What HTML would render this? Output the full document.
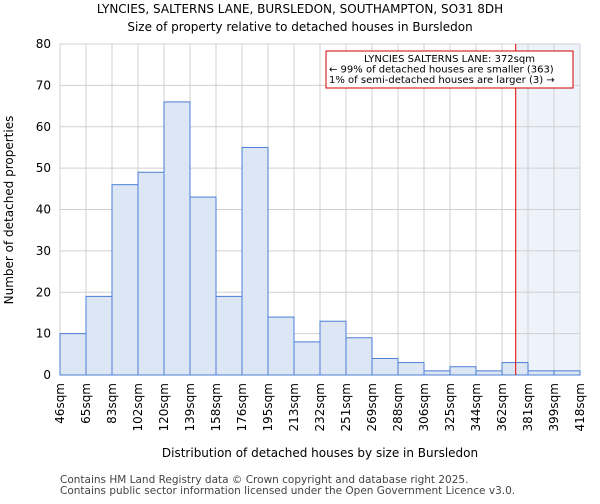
<!DOCTYPE html>
<html><head><meta charset="utf-8"><style>
body{margin:0;background:#fff;font-family:"DejaVu Sans","Liberation Sans",sans-serif}
</style></head><body>
<svg id="chart" width="600" height="500" xmlns="http://www.w3.org/2000/svg" font-family="DejaVu Sans, Liberation Sans, sans-serif">
<text x="300" y="13" text-anchor="middle" font-size="12">LYNCIES, SALTERNS LANE, BURSLEDON, SOUTHAMPTON, SO31 8DH</text>
<text x="300" y="31" text-anchor="middle" font-size="12">Size of property relative to detached houses in Bursledon</text>
<g id="grid"></g>
<g id="bars"></g>
<g id="axes"></g>
<text transform="translate(13,210) rotate(-90)" text-anchor="middle" font-size="12">Number of detached properties</text>
<text x="320" y="457" text-anchor="middle" font-size="12">Distribution of detached houses by size in Bursledon</text>
<text x="60" y="483" font-size="10.5" fill="#444">Contains HM Land Registry data © Crown copyright and database right 2025.</text>
<text x="60" y="494" font-size="10.5" fill="#444">Contains public sector information licensed under the Open Government Licence v3.0.</text>
</svg>
<script>
const categories=["46sqm","65sqm","83sqm","102sqm","120sqm","139sqm","158sqm","176sqm","195sqm","213sqm","232sqm","251sqm","269sqm","288sqm","306sqm","325sqm","344sqm","362sqm","381sqm","399sqm","418sqm"];
const counts=[10,19,46,49,66,43,19,55,14,8,13,9,4,3,1,2,1,3,1,1];
const yTicks=[0,10,20,30,40,50,60,70,80];
const binStart=46, binWidth=18.6;
const propertySize=372;
const annotationLines=["LYNCIES SALTERNS LANE: 372sqm","← 99% of detached houses are smaller (363)","1% of semi-detached houses are larger (3) →"];

const NS="http://www.w3.org/2000/svg";
const x0=60,x1=580,yB=375,yT=44,yMax=80;
const n=counts.length;
const bw=(x1-x0)/n;
const X=i=>x0+i*bw;
const Y=v=>yB-(v/yMax)*(yB-yT);
const XS=s=>x0+(s-binStart)/binWidth*bw;
function mk(tag,attrs,parent){const e=document.createElementNS(NS,tag);for(const k in attrs)e.setAttribute(k,attrs[k]);parent.appendChild(e);return e;}
const grid=document.getElementById('grid'),bars=document.getElementById('bars'),axes=document.getElementById('axes');
const sh=mk('rect',{x:XS(propertySize),y:yT,width:x1-XS(propertySize),height:yB-yT,fill:'#eef2fa'},grid);


yTicks.forEach(t=>{
  const l=mk('line',{x1:x0,x2:x1,y1:Y(t),y2:Y(t),stroke:'#d0d0d0','stroke-width':1},grid);
  
  
  const tx=mk('text',{x:x0-9,y:Y(t)+4,'text-anchor':'end','font-size':12},axes);
  tx.textContent=t;
  
  
});
categories.forEach((c,i)=>{
  const l=mk('line',{x1:X(i),x2:X(i),y1:yT,y2:yB,stroke:'#d0d0d0','stroke-width':1},grid);
  
  
  const tx=mk('text',{transform:`translate(${X(i)+4},383) rotate(-90)`,'text-anchor':'end','font-size':12},axes);
  tx.textContent=c;
  
  
});
counts.forEach((v,i)=>{
  const r=mk('rect',{x:X(i),y:Y(v),width:bw,height:yB-Y(v),fill:'#dde6f4',stroke:'#4a7fd4','stroke-width':1},bars);
  
  
});
const rl=mk('line',{x1:XS(propertySize),x2:XS(propertySize),y1:yT,y2:yB,stroke:'#dd0000','stroke-width':1},bars);


const box=mk('rect',{x:326,y:51,width:247,height:37,fill:'#fff',stroke:'#cc0000','stroke-width':1},bars);


annotationLines.forEach((s,i)=>{
  const t=mk('text',i===0?{x:449.5,y:62,'text-anchor':'middle','font-size':10}:{x:329,y:62+i*10.5,'font-size':10},bars);
  t.textContent=s;
  
  
});
</script>
</body></html>
